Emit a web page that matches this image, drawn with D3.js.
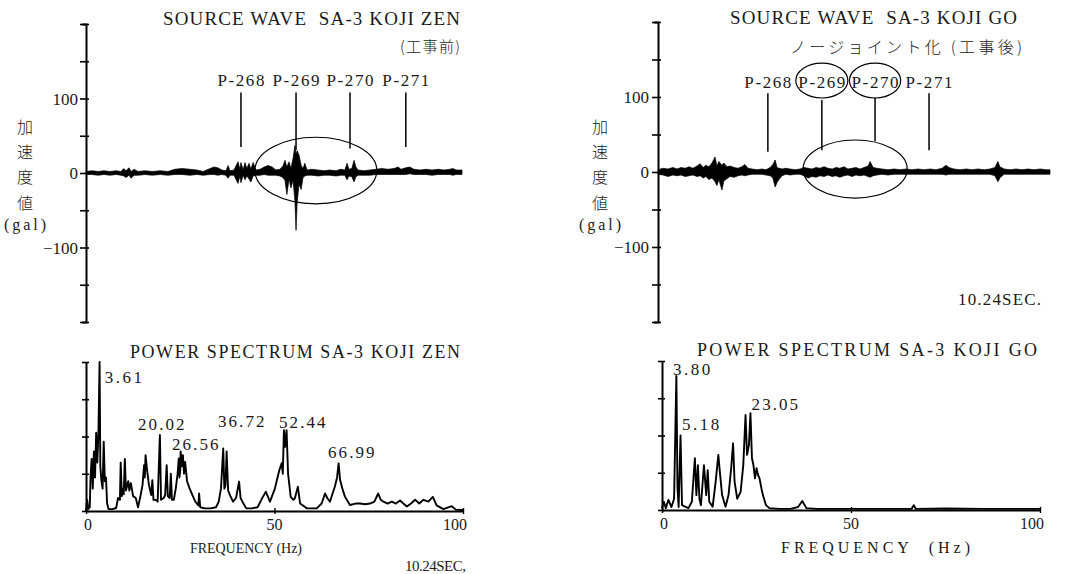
<!DOCTYPE html>
<html><head><meta charset="utf-8">
<script src="https://cdn.jsdelivr.net/npm/d3@7"></script>
<style>
body{margin:0;background:#fff}
text{font-family:"Liberation Serif","DejaVu Serif",serif;fill:#1a1a1a;font-weight:400}
.cjk{font-family:"Noto Sans CJK JP","Noto Sans CJK SC",sans-serif;font-weight:300}
</style>
</head><body>
<svg id="c" width="1069" height="574" xmlns="http://www.w3.org/2000/svg"></svg>
<script>
// ---------- DATA ----------
// Source wave before works: [time s, upper envelope gal, lower envelope gal]
const waveL = [
[0.00,2,-2],[0.16,3,-2],[0.33,2,-3],[0.49,3,-2],[0.65,2,-3],[0.82,3,-2],[0.95,2,-3],[1.03,6,-4],[1.09,3,-6],[1.17,7,-3],
[1.23,2,-7],[1.31,5,-3],[1.42,2,-3],[1.61,3,-2],[1.80,2,-3],[2.02,3,-2],[2.23,2,-3],[2.42,5,-2],[2.61,6,-2],[2.83,5,-3],
[3.02,4,-2],[3.19,2,-3],[3.38,6,-2],[3.49,8,-2],[3.59,7,-3],[3.70,4,-2],[3.81,3,-3],[3.87,10,-7],[3.92,3,-3],[4.03,4,-3],
[4.14,15,-14],[4.19,5,-4],[4.22,14,-13],[4.28,4,-3],[4.33,14,-9],[4.38,6,-4],[4.44,13,-8],[4.49,5,-12],[4.55,14,-4],[4.63,4,-3],
[4.74,5,-3],[4.85,8,-2],[4.96,10,-3],[5.07,8,-3],[5.17,4,-3],[5.28,5,-4],[5.36,9,-6],[5.42,17,-10],[5.47,8,-29],[5.53,15,-8],
[5.58,6,-20],[5.64,20,-10],[5.69,37,-38],[5.72,25,-77],[5.75,30,-40],[5.80,24,-15],[5.86,10,-22],[5.91,6,-6],[5.96,13,-4],[6.02,4,-3],
[6.15,5,-3],[6.32,4,-4],[6.48,3,-3],[6.64,4,-3],[6.81,3,-4],[6.94,5,-3],[7.05,4,-3],[7.11,13,-9],[7.16,5,-4],[7.24,6,-5],
[7.30,17,-12],[7.35,8,-5],[7.41,4,-3],[7.57,3,-3],[7.73,4,-3],[7.90,5,-2],[8.06,6,-2],[8.22,5,-2],[8.39,6,-2],[8.50,8,-2],
[8.58,5,-2],[8.71,7,-2],[8.82,8,-1],[8.93,5,-2],[9.10,4,-2],[9.26,5,-2],[9.42,4,-3],[9.59,5,-2],[9.75,4,-2],[9.91,5,-2],
[9.99,6,-3],[10.08,4,-2],[10.24,4,-2]
];
// Source wave after works
const waveR = [
[0.00,3,-3],[0.13,5,-4],[0.26,4,-6],[0.39,6,-4],[0.50,4,-5],[0.60,6,-4],[0.71,5,-6],[0.81,7,-5],[0.91,5,-4],[1.02,8,-6],
[1.10,11,-5],[1.18,6,-8],[1.25,9,-6],[1.33,7,-10],[1.41,12,-8],[1.49,20,-13],[1.54,8,-18],[1.59,14,-10],[1.67,9,-24],[1.72,12,-12],
[1.80,7,-9],[1.88,8,-6],[1.99,6,-7],[2.09,5,-5],[2.19,7,-4],[2.27,10,-5],[2.35,5,-4],[2.46,4,-3],[2.59,3,-3],[2.72,4,-3],
[2.82,3,-4],[2.93,6,-5],[3.00,10,-8],[3.06,16,-20],[3.11,6,-14],[3.16,5,-10],[3.24,4,-5],[3.34,5,-3],[3.45,4,-4],[3.58,3,-3],
[3.71,4,-3],[3.81,6,-5],[3.92,5,-8],[4.02,4,-6],[4.13,6,-7],[4.23,5,-5],[4.34,7,-6],[4.44,5,-4],[4.55,4,-6],[4.65,6,-5],
[4.75,5,-7],[4.86,7,-5],[4.96,4,-4],[5.07,5,-6],[5.17,6,-4],[5.28,4,-5],[5.38,6,-4],[5.49,8,-6],[5.54,14,-7],[5.62,6,-5],
[5.72,5,-4],[5.85,4,-3],[6.01,3,-4],[6.17,4,-3],[6.32,3,-3],[6.48,4,-3],[6.64,3,-3],[6.79,4,-3],[6.95,3,-3],[7.11,4,-3],
[7.26,3,-3],[7.42,5,-3],[7.52,9,-4],[7.60,6,-3],[7.73,4,-3],[7.89,3,-3],[8.05,4,-3],[8.20,3,-3],[8.36,4,-3],[8.52,3,-3],
[8.67,4,-3],[8.80,6,-5],[8.88,14,-13],[8.93,7,-8],[9.04,4,-3],[9.20,3,-3],[9.35,4,-3],[9.51,3,-3],[9.67,4,-3],[9.82,3,-3],
[9.98,4,-3],[10.14,3,-3],[10.24,3,-3]
];
const markerLabels = ["P-268","P-269","P-270","P-271"];
const markerTimeL = [4.22, 5.72, 7.19, 8.71];
const markerTopL = [108, 108, 108, 108];
const markerBotL = [35, 31, 33, 35];
const markerTimeR = [2.87, 4.28, 5.67, 7.08];
const markerTopR = [105, 96, 99, 105];
const markerBotR = [27, 29, 41, 29];
const waveTicks = [-200,-150,-100,-50,0,50,100,150,200];
const waveTickLabels = [100, 0, -100];
// Power spectra: [frequency Hz, relative power]
const specL = [
[0.0,0.0],[0.3,0.3],[0.6,0.05],[1.0,0.1],[1.2,0.9],[1.5,1.4],[1.8,0.6],[2.1,1.6],[2.4,0.9],[2.7,2.1],[3.0,1.3],
[3.3,2.1],[3.6,4.0],[3.8,1.2],[4.1,0.8],[4.4,0.6],[4.7,1.86],[5.0,0.8],[5.3,0.9],[5.6,0.2],[6.0,0.05],
[7.0,0.05],[8.0,0.08],[8.5,0.35],[9.0,0.3],[9.2,1.3],[9.5,0.4],[9.8,0.6],[10.0,0.45],[10.3,1.4],[10.6,0.55],[11.2,0.8],
[11.5,0.55],[11.9,0.75],[12.5,0.4],[13.2,0.35],[13.8,0.1],[14.5,0.43],[15.0,0.7],[15.4,1.23],[15.6,0.9],[15.8,1.5],[16.2,1.1],[16.7,0.7],
[17.3,0.43],[17.6,0.83],[17.9,0.3],[18.5,0.3],[19.0,0.25],[19.6,2.04],[19.9,0.3],[20.6,0.35],[21.0,0.43],[21.4,1.23],
[21.7,0.4],[22.2,0.35],[22.5,1.0],[22.8,0.3],[23.3,0.3],[23.8,0.6],[24.3,1.0],[24.6,1.41],[24.8,0.9],[25.0,1.1],[25.1,1.6],
[25.5,1.2],[25.7,1.5],[26.0,1.0],[26.3,1.32],[26.8,0.8],[27.5,0.6],[28.2,0.43],[29.0,0.25],[29.8,0.15],[30.0,0.47],
[30.3,0.1],[31.5,0.07],[33.0,0.07],[34.5,0.1],[35.2,0.25],[35.8,0.6],[36.4,1.68],[36.7,0.6],[37.0,0.7],[37.3,1.6],
[37.7,0.55],[38.3,0.4],[39.0,0.25],[39.8,0.35],[40.6,0.79],[41.0,0.35],[41.5,0.25],[42.5,0.07],[44.0,0.07],[45.5,0.1],
[46.5,0.3],[47.7,0.52],[48.8,0.25],[50.1,0.6],[50.8,0.9],[51.3,1.1],[51.9,1.28],[52.2,1.0],[52.5,2.17],[52.8,1.72],
[53.2,2.17],[53.6,1.0],[54.3,0.38],[55.0,0.3],[55.4,0.34],[56.2,0.65],[56.8,0.2],[58.6,0.07],[61.2,0.07],[62.5,0.2],
[63.4,0.47],[64.0,0.35],[64.7,0.25],[66.0,0.65],[66.6,0.9],[67.0,1.28],[67.4,0.83],[68.0,0.6],[68.7,0.38],[70.0,0.16],
[71.5,0.2],[72.7,0.2],[74.0,0.18],[75.3,0.2],[76.5,0.25],[77.5,0.47],[78.2,0.3],[78.9,0.25],[80.0,0.2],[81.1,0.25],
[82.2,0.2],[83.3,0.28],[85.1,0.12],[86.2,0.2],[87.3,0.3],[88.4,0.2],[89.5,0.3],[90.8,0.25],[92.0,0.38],[93.0,0.15],
[94.8,0.05],[97.0,0.13],[98.2,0.03],[100,0.03]
];
const specR = [
[0.0,0.05],[0.5,0.22],[1.0,0.05],[1.7,0.27],[2.5,0.08],[3.2,0.3],[3.8,3.6],[4.1,0.58],[4.4,0.08],[4.9,2.0],
[5.3,0.13],[6.1,0.09],[7.0,0.05],[7.9,0.22],[8.7,1.39],[9.1,0.4],[9.5,1.2],[9.9,0.3],[10.3,0.13],[11.1,1.2],
[11.7,0.4],[12.1,1.07],[12.5,0.22],[13.4,0.09],[14.2,0.76],[14.9,1.48],[15.3,1.03],[15.9,0.4],[16.8,0.09],[17.6,0.4],
[18.3,1.12],[18.8,1.79],[19.2,0.76],[19.9,0.3],[20.8,0.49],[21.5,1.2],[22.1,2.55],[22.5,1.48],[23.0,1.74],[23.4,2.6],
[23.8,1.39],[24.2,1.2],[24.6,0.85],[25.0,1.12],[25.4,0.94],[25.8,0.85],[26.3,0.58],[26.7,0.4],[27.5,0.13],[28.4,0.05],
[31.0,0.03],[34.0,0.03],[36.0,0.08],[37.1,0.24],[38.2,0.05],[41.0,0.03],[50,0.03],[60,0.03],[66.0,0.03],[66.6,0.13],
[67.2,0.03],[75,0.04],[85,0.03],[100,0.03]
];
const specTicks = [0,1,2,3,4];
const freqTicks = [0,50,100];
const peakTextL = ["3.61","20.02","26.56","36.72","52.44","66.99"];
const peakPosL = [[5.0,3.43],[13.8,2.17],[22.8,1.64],[35.0,2.25],[51.2,2.23],[64.2,1.42]];
const peakTextR = ["3.80","5.18","23.05"];
const peakPosR = [[2.9,3.62],[5.3,2.15],[23.7,2.68]];

// ---------- SCALES ----------
const svg = d3.select("#c");
const xWL = d3.scaleLinear([0,10.24],[86,462]);
const yWL = d3.scaleLinear([-200,200],[322,24]);
const xWR = d3.scaleLinear([0,10.24],[658,1050]);
const yWR = d3.scaleLinear([-200,200],[322,22]);
const xSL = d3.scaleLinear([0,100],[86,463]);
const ySL = d3.scaleLinear([0,4],[511,362]);
const xSR = d3.scaleLinear([0,100],[662,1040]);
const ySR = d3.scaleLinear([0,4],[510,361]);

function txt(x,y,s,size,len,anchor,cls){
  const t = svg.append("text").attr("x",x).attr("y",y).attr("font-size",size)
    .style("white-space","pre").text(s);
  if(len) t.attr("textLength",len).attr("lengthAdjust","spacing");
  if(anchor) t.attr("text-anchor",anchor);
  if(cls) t.attr("class",cls);
  return t;
}

function wavePanel(x,y,data,axX,labelRight,mTime,mTop,mBot,lblY){
  const ax = svg.append("g").attr("transform",`translate(${axX},0)`)
    .call(d3.axisLeft(y).tickValues(waveTicks).tickSize(6).tickSizeOuter(4).tickFormat(""));
  ax.select(".domain").attr("stroke","#000").attr("stroke-width",2);
  ax.selectAll(".tick line").attr("x1",3).attr("x2",-6).attr("stroke","#000").attr("stroke-width",1.6);
  svg.append("g").selectAll("text").data(waveTickLabels).join("text")
    .attr("x",labelRight).attr("y",d=>y(d)+6).attr("text-anchor","end").attr("font-size",17)
    .text(d=>d<0?"\u2212"+Math.abs(d):d);
  const area = d3.area().x(d=>x(d[0])).y0(d=>y(d[2])).y1(d=>y(d[1]));
  svg.append("path").datum(data).attr("d",area).attr("fill","#000")
    .attr("stroke","#000").attr("stroke-width",0.7).attr("stroke-linejoin","round");
  svg.append("g").selectAll("line").data(mTime).join("line")
    .attr("x1",d=>x(d)).attr("x2",d=>x(d))
    .attr("y1",(d,i)=>y(mTop[i])).attr("y2",(d,i)=>y(mBot[i]))
    .attr("stroke","#000").attr("stroke-width",1.5);
  svg.append("g").selectAll("text").data(mTime).join("text")
    .attr("x",d=>x(d)).attr("y",y(lblY)).attr("text-anchor","middle")
    .attr("font-size",17).attr("textLength",47).attr("lengthAdjust","spacing")
    .text((d,i)=>markerLabels[i]);
}

wavePanel(xWL,yWL,waveL,86,78,markerTimeL,markerTopL,markerBotL,117);
wavePanel(xWR,yWR,waveR,658,649,markerTimeR,markerTopR,markerBotR,112);

// ellipses
function ell(x,y,t,dt,v,dv){
  svg.append("ellipse").attr("cx",x(t)).attr("cy",y(v))
    .attr("rx",x(t+dt)-x(t)).attr("ry",y(v)-y(v+dv))
    .attr("fill","none").attr("stroke","#000").attr("stroke-width",1.2);
}
ell(xWL,yWL,6.26,1.66,3.3,44.7);
ell(xWR,yWR,5.15,1.36,4,38.7);
ell(xWR,yWR,4.28,0.68,122,23.3);
ell(xWR,yWR,5.67,0.67,122,23.3);

// wave titles
txt(163,25,"SOURCE WAVE\u00A0\u00A0SA-3 KOJI ZEN",19,297);
txt(400,52,"(工事前)",15,60,null,"cjk");
txt(730,24,"SOURCE WAVE\u00A0\u00A0SA-3 KOJI GO",19,287);
txt(790,53,"ノージョイント化 (工事後)",16,232,null,"cjk");
txt(958,305,"10.24SEC.",17,83);

// y titles
[["加",127],["速",152],["度",177],["値",203]].forEach(([c,yy])=>{
  txt(25,yy+6,c,16,null,"middle","cjk");
  txt(600,yy+6,c,16,null,"middle","cjk");
});
txt(25,230,"(gal)",16,42,"middle");
txt(600,230,"(gal)",16,42,"middle");

// spectra
function specPanel(x,y,data,ptext,ppos){
  const ay = svg.append("g").attr("transform",`translate(${x(0)},0)`)
    .call(d3.axisLeft(y).tickValues(specTicks).tickSize(4).tickSizeOuter(0).tickFormat(""));
  ay.select(".domain").attr("stroke","#000").attr("stroke-width",2);
  ay.selectAll(".tick line").attr("x1",3).attr("x2",-4).attr("stroke","#000").attr("stroke-width",1.6);
  const ax = svg.append("g").attr("transform",`translate(0,${y(0)})`)
    .call(d3.axisBottom(x).tickValues(freqTicks).tickSize(3).tickSizeOuter(0).tickFormat(""));
  ax.select(".domain").attr("stroke","#000").attr("stroke-width",2);
  ax.selectAll(".tick line").attr("y1",-3).attr("stroke","#000").attr("stroke-width",1.4);
  svg.append("g").selectAll("text").data(freqTicks).join("text")
    .attr("x",d=>x(d)+(d===100?-8:(d===0?2:0))).attr("y",y(0)+19).attr("text-anchor","middle")
    .attr("font-size",16).text(d=>d);
  const line = d3.line().x(d=>x(d[0])).y(d=>y(d[1]));
  svg.append("path").datum(data).attr("d",line).attr("fill","none")
    .attr("stroke","#000").attr("stroke-width",1.9).attr("stroke-linejoin","round");
  svg.append("g").selectAll("text").data(ppos).join("text")
    .attr("x",d=>x(d[0])).attr("y",d=>y(d[1])).attr("font-size",17)
    .attr("textLength",(d,i)=>ptext[i].length*9.3).attr("lengthAdjust","spacing")
    .text((d,i)=>ptext[i]);
}
specPanel(xSL,ySL,specL,peakTextL,peakPosL);
specPanel(xSR,ySR,specR,peakTextR,peakPosR);

txt(130,358,"POWER SPECTRUM SA-3 KOJI ZEN",18,330);
txt(697,356,"POWER SPECTRUM SA-3 KOJI GO",18,340);
txt(190,553,"FREQUENCY (Hz)",14,112);
txt(781,553,"FREQUENCY\u00A0\u00A0(Hz)",16,189);
txt(405,571,"10.24SEC,",15,61);
</script>
</body></html>
